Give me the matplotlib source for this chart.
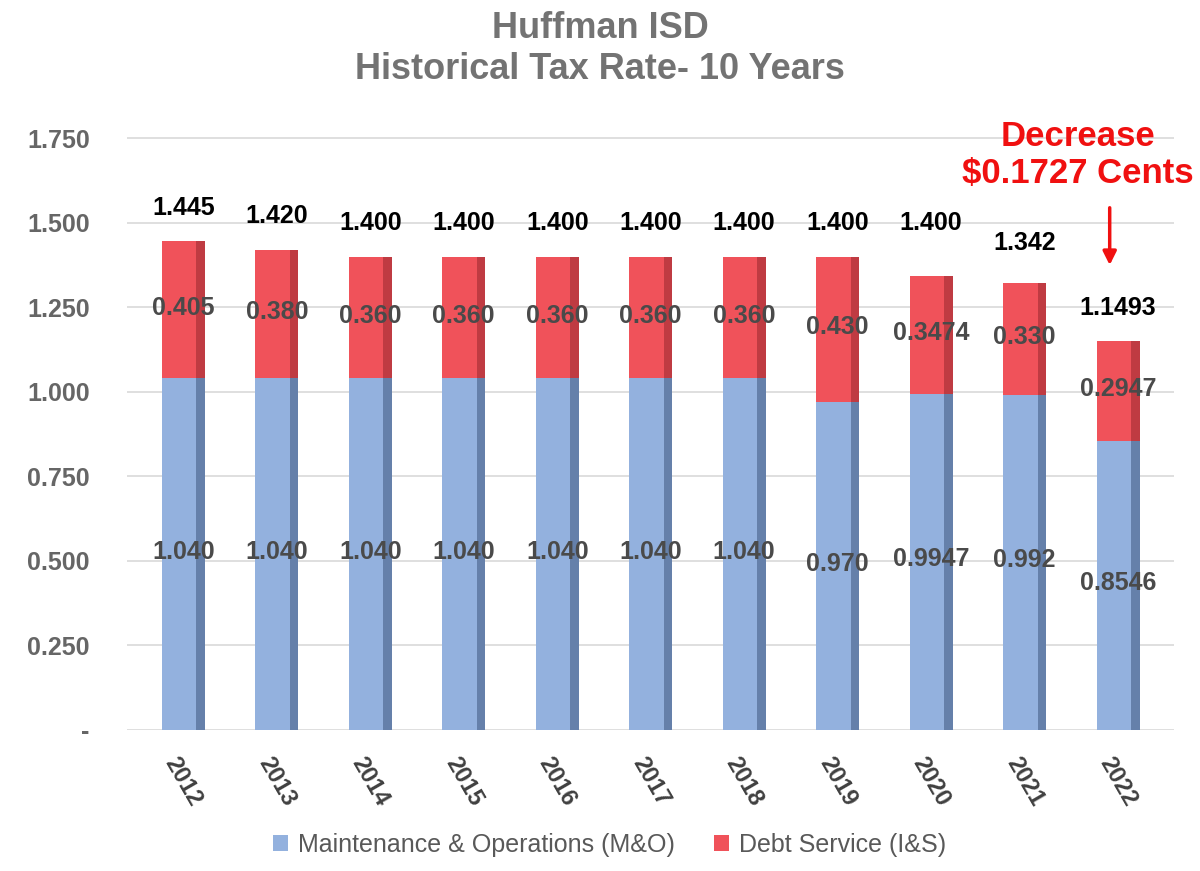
import matplotlib
matplotlib.use("Agg")
import matplotlib.pyplot as plt
import numpy as np

years = ["2012", "2013", "2014", "2015", "2016", "2017", "2018", "2019", "2020", "2021", "2022"]
mo_rate = [1.040, 1.040, 1.040, 1.040, 1.040, 1.040, 1.040, 0.970, 0.9947, 0.992, 0.8546]
is_rate = [0.405, 0.380, 0.360, 0.360, 0.360, 0.360, 0.360, 0.430, 0.3474, 0.330, 0.2947]
mo_labels = ["1.040", "1.040", "1.040", "1.040", "1.040", "1.040", "1.040", "0.970", "0.9947", "0.992", "0.8546"]
is_labels = ["0.405", "0.380", "0.360", "0.360", "0.360", "0.360", "0.360", "0.430", "0.3474", "0.330", "0.2947"]
total_labels = ["1.445", "1.420", "1.400", "1.400", "1.400", "1.400", "1.400", "1.400", "1.400", "1.342", "1.1493"]
yticks = [0, 0.25, 0.5, 0.75, 1.0, 1.25, 1.5, 1.75]
ytick_labels = ["-", "0.250", "0.500", "0.750", "1.000", "1.250", "1.500", "1.750"]

BLUE = "#93b1de"
BLUE_DARK = "#6580aa"
RED = "#f0525a"
RED_DARK = "#bf3b42"
GRAY = "#595959"

plt.rcParams["font.family"] = ["Liberation Sans", "DejaVu Sans"]

fig = plt.figure(figsize=(12, 8.71), dpi=100)
ax = fig.add_axes([0.106, 0.162, 0.8725, 0.6985])

x = np.arange(len(years))
mo = np.array(mo_rate)
ds = np.array(is_rate)

# front face + darker side strip to fake the 3D look
face_w, side_w = 0.37, 0.09
ax.bar(x - 0.045, mo, width=face_w, color=BLUE, zorder=3, label="Maintenance & Operations (M&O)")
ax.bar(x + 0.185, mo, width=side_w, color=BLUE_DARK, zorder=3)
ax.bar(x - 0.045, ds, bottom=mo, width=face_w, color=RED, zorder=3, label="Debt Service (I&S)")
ax.bar(x + 0.185, ds, bottom=mo, width=side_w, color=RED_DARK, zorder=3)

for i in range(len(years)):
    ax.text(x[i], mo[i] / 2 + 0.007, mo_labels[i], ha="center", va="center",
            fontsize=18, fontweight="bold", color="#4a4a4a", zorder=5)
    ax.text(x[i], mo[i] + ds[i] / 2 + 0.006, is_labels[i], ha="center", va="center",
            fontsize=18, fontweight="bold", color="#4a4a4a", zorder=5)
    ax.text(x[i], float(total_labels[i]) + 0.10, total_labels[i], ha="center", va="center",
            fontsize=18, fontweight="bold", color="black", zorder=5)

ax.set_xlim(-0.6, 10.6)
ax.set_ylim(0, 1.80)
ax.set_yticks(yticks)
ax.set_yticklabels(ytick_labels, fontsize=18, fontweight="bold", color="#666666")
ax.set_xticks(x)
ax.set_xticklabels(years, rotation=-60, ha="center", va="center", rotation_mode="anchor",
                   fontsize=17, fontweight="bold", color="#404040")
ax.tick_params(axis="y", length=0, pad=27)
ax.tick_params(axis="x", length=0, pad=37)
ax.grid(axis="y", color="#d9d9d9", linewidth=1.2, zorder=0)
for s in ax.spines.values():
    s.set_visible(False)

fig.text(0.5, 0.967, "Huffman ISD", ha="center", va="center",
         fontsize=26, fontweight="bold", color="#737373")
fig.text(0.5, 0.920, "Historical Tax Rate- 10 Years", ha="center", va="center",
         fontsize=26, fontweight="bold", color="#737373")

ax.text(9.57, 1.70, "Decrease\n$0.1727 Cents", ha="center", va="center",
        fontsize=25, fontweight="bold", color="#f01010", linespacing=1.15)
ax.annotate("", xy=(9.91, 1.367), xytext=(9.91, 1.553),
            arrowprops=dict(arrowstyle="-|>", color="#f01010", lw=2.5, mutation_scale=20))

leg = fig.legend(loc="center", bbox_to_anchor=(0.508, 0.03), ncol=2, frameon=False,
                 fontsize=18, handlelength=0.6, handleheight=0.6, columnspacing=1.6,
                 handletextpad=0.4)
for t in leg.get_texts():
    t.set_color(GRAY)

fig.savefig("out.png", dpi=100)
